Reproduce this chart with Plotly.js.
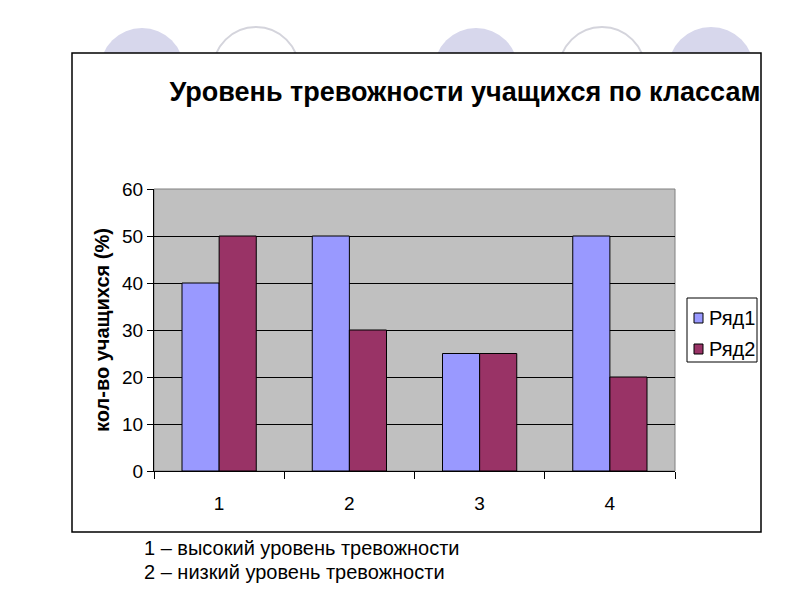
<!DOCTYPE html>
<html><head><meta charset="utf-8">
<script src="https://cdn.plot.ly/plotly-3.0.1.min.js"></script>
<style>html,body{margin:0;padding:0;background:#fff;}#chart{width:800px;height:600px;}</style>
</head><body><div id="chart"></div>
<script>
const categories = ['1','2','3','4'];
const seriesNames = ['Ряд1','Ряд2'];
const seriesColors = ['#9999ff','#993366'];
const series1 = [40, 50, 25, 50];
const series2 = [50, 30, 25, 20];
const yTicks = [0,10,20,30,40,50,60];
const chartTitle = 'Уровень тревожности учащихся по классам';
const yTitle = 'кол-во учащихся (%)';
const notes = ['1 – высокий уровень тревожности', '2 – низкий уровень тревожности'];

const W = 800, H = 600;
const L = 154, R = 675, T = 189, B = 471;
const px = x => (x - L) / (R - L);
const py = y => (B - y) / (B - T);
const FONT = 'Liberation Sans, Arial, sans-serif';

const shapes = [];
// decorative circles behind the chart box
const circles = [[142,70,42,true],[256,70,43,false],[476,70,42,true],[602,70,43,false],[711,70,43,true]];
circles.forEach(c => {
  shapes.push({type:'circle', xref:'paper', yref:'paper', layer:'below',
    x0:px(c[0]-c[2]), x1:px(c[0]+c[2]), y0:py(c[1]+c[2]), y1:py(c[1]-c[2]),
    fillcolor: c[3] ? '#d7d7ec' : 'rgba(0,0,0,0)',
    line:{color: c[3] ? '#d7d7ec' : '#d4d4dc', width: c[3] ? 0 : 2}});
});
// chart box
shapes.push({type:'rect', xref:'paper', yref:'paper', layer:'below',
  x0:px(72), x1:px(761), y0:py(532), y1:py(53), fillcolor:'#ffffff', line:{color:'#000', width:1.5}});
// plot area
shapes.push({type:'rect', xref:'paper', yref:'paper', layer:'below',
  x0:0, x1:1, y0:0, y1:1, fillcolor:'#c0c0c0', line:{color:'#808080', width:1}});
// legend box
shapes.push({type:'rect', xref:'paper', yref:'paper', layer:'above',
  x0:px(687), x1:px(757), y0:py(362), y1:py(298), fillcolor:'#ffffff', line:{color:'#000', width:1}});

const annotations = notes.map((t,i) => ({
  text:t, xref:'paper', yref:'paper', x:px(142), y:py(548 + i*24), xanchor:'left', yanchor:'middle',
  showarrow:false, font:{family:FONT, size:20, color:'#000'}
}));
seriesNames.forEach((n,i) => {
  const cy = 318 + i*31;
  shapes.push({type:'rect', xref:'paper', yref:'paper', layer:'above',
    x0:px(694), x1:px(703), y0:py(cy+5), y1:py(cy-5), fillcolor:seriesColors[i], line:{color:'#000', width:1}});
  annotations.push({text:n, xref:'paper', yref:'paper', x:px(707), y:py(cy), xanchor:'left', yanchor:'middle',
    showarrow:false, font:{family:FONT, size:20, color:'#000'}});
});

const traces = [
  {type:'bar', name:seriesNames[0], x:categories, y:series1, marker:{color:seriesColors[0], line:{color:'#000', width:1}}},
  {type:'bar', name:seriesNames[1], x:categories, y:series2, marker:{color:seriesColors[1], line:{color:'#000', width:1}}}
];

const layout = {
  width:W, height:H,
  margin:{l:L, r:W-R, t:T, b:H-B, pad:0},
  paper_bgcolor:'#ffffff', plot_bgcolor:'rgba(0,0,0,0)',
  font:{family:FONT, size:19, color:'#000'},
  title:{text:chartTitle, x:465/W, xanchor:'center', y:1-92/H, yanchor:'middle', xref:'container', yref:'container',
    font:{family:FONT, size:27, color:'#000', weight:'bold'}},
  barmode:'group', bargap:0.43, bargroupgap:0,
  showlegend:false,
  xaxis:{type:'category', showgrid:false, showline:true, linecolor:'#000', linewidth:1,
    ticks:'outside', tickson:'boundaries', ticklen:7, tickcolor:'#000', zeroline:false, ticklabelstandoff:15,
    tickfont:{family:FONT, size:19, color:'#000'}, fixedrange:true},
  yaxis:{range:[0,60], tickvals:yTicks, ticktext:yTicks.map(String), showgrid:true, gridcolor:'#000', gridwidth:1,
    showline:true, linecolor:'#000', linewidth:1, ticks:'outside', ticklen:6, tickcolor:'#000', zeroline:false,
    tickfont:{family:FONT, size:19, color:'#000'},
    title:{text:yTitle, standoff:7, font:{family:FONT, size:20, color:'#000', weight:'bold'}}, fixedrange:true},
  shapes:shapes, annotations:annotations
};
Plotly.newPlot('chart', traces, layout, {displayModeBar:false, staticPlot:true});
</script></body></html>
